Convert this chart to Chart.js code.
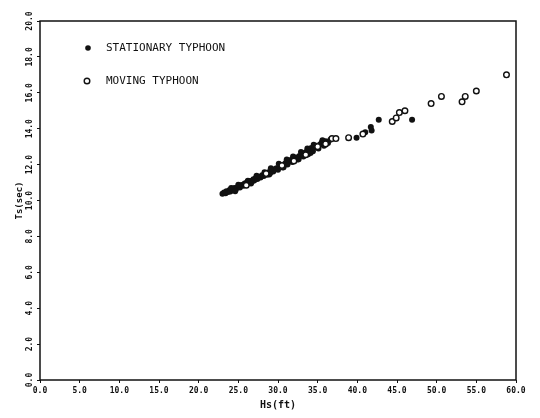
<!DOCTYPE html>
<html>
<head>
<meta charset="utf-8">
<script src="https://cdn.jsdelivr.net/npm/chart.js@4/dist/chart.umd.min.js"></script>
<style>
  html, body { margin: 0; padding: 0; background: #fff; }
  #wrap { width: 540px; height: 418px; }
</style>
</head>
<body>
<div id="wrap"><canvas id="chart"></canvas></div>
<script>
// tick values
const xTicks = [0, 5, 10, 15, 20, 25, 30, 35, 40, 45, 50, 55, 60];
const yTicks = [0, 2, 4, 6, 8, 10, 12, 14, 16, 18, 20];

// stationary typhoon (filled dots)
const stationaryX = [23.0, 23.2, 23.4, 23.5, 23.7, 23.9, 24.0, 24.2, 24.4, 24.5, 24.7, 24.9,
  25.1, 25.2, 25.4, 25.6, 25.8, 26.0, 26.1, 26.3, 26.5, 26.7, 26.9, 27.0, 27.2, 27.4, 27.6,
  27.8, 28.0, 28.2, 28.4, 28.6, 28.8, 29.0, 29.2, 29.4, 29.6, 29.8, 30.0, 30.2, 30.4, 30.6,
  30.8, 31.0, 31.2, 31.4, 31.6, 31.8, 32.0, 32.3, 32.5, 32.7, 33.0, 33.2, 33.4, 33.6, 33.8,
  34.0, 34.2, 34.4, 34.6, 34.9, 35.1, 35.3, 35.5, 35.8, 36.0, 36.3, 36.6,
  24.1, 25.0, 26.2, 27.3, 28.3, 29.1, 30.1, 31.1, 31.9, 32.9, 33.7, 34.5, 35.6,
  24.6, 26.6, 28.9, 30.7, 32.6, 34.1,
  39.9, 41.0, 41.7, 41.8, 42.7, 46.9];
const stationaryY = [10.38, 10.45, 10.40, 10.52, 10.48, 10.58, 10.50, 10.62, 10.58, 10.70, 10.63, 10.74,
  10.80, 10.72, 10.86, 10.82, 10.95, 10.90, 11.02, 10.96, 11.08, 11.05, 11.18, 11.12, 11.25, 11.20, 11.32,
  11.28, 11.40, 11.36, 11.48, 11.44, 11.58, 11.52, 11.66, 11.62, 11.74, 11.80, 11.72, 11.86, 11.92, 11.84,
  12.02, 12.10, 12.00, 12.18, 12.26, 12.14, 12.30, 12.40, 12.28, 12.48, 12.55, 12.45, 12.66, 12.72, 12.58,
  12.80, 12.92, 12.74, 12.95, 13.05, 12.90, 13.12, 13.22, 13.05, 13.30, 13.20, 13.38,
  10.70, 10.88, 11.10, 11.38, 11.58, 11.80, 12.05, 12.28, 12.45, 12.70, 12.90, 13.10, 13.35,
  10.52, 10.95, 11.45, 11.85, 12.30, 12.65,
  13.5, 13.8, 14.1, 13.9, 14.5, 14.5];

// moving typhoon (open circles)
const movingX = [26.0, 28.5, 30.5, 32.0, 33.5, 35.0, 36.0, 36.8, 37.3,
  38.9, 40.7, 44.4, 44.9, 45.3, 46.0, 49.3, 50.6, 53.2, 53.6, 55.0, 58.8];
const movingY = [10.85, 11.50, 11.95, 12.20, 12.55, 13.00, 13.15, 13.45, 13.45,
  13.5, 13.7, 14.4, 14.6, 14.9, 15.0, 15.4, 15.8, 15.5, 15.8, 16.1, 17.0];

const ink = '#111';
const tickFont = { family: 'DejaVu Sans Mono', size: 8, weight: 'bold' };

function toPoints(xs, ys) {
  return xs.map((x, i) => ({ x: x, y: ys[i] }));
}

const frame = {
  id: 'frame',
  afterDraw(chart) {
    const a = chart.chartArea;
    const ctx = chart.ctx;
    ctx.save();
    ctx.strokeStyle = ink;
    ctx.lineWidth = 1.5;
    ctx.strokeRect(a.left, a.top, a.right - a.left, a.bottom - a.top);

    // legend inside the plot
    ctx.fillStyle = ink;
    ctx.beginPath();
    ctx.arc(88, 48, 2.8, 0, Math.PI * 2);
    ctx.fill();
    ctx.lineWidth = 1.4;
    ctx.beginPath();
    ctx.arc(87, 81, 2.8, 0, Math.PI * 2);
    ctx.stroke();
    ctx.font = '11px "DejaVu Sans Mono"';
    ctx.textBaseline = 'middle';
    ctx.fillText('STATIONARY TYPHOON', 106, 48);
    ctx.fillText('MOVING TYPHOON', 106, 81);
    ctx.restore();
  }
};

new Chart(document.getElementById('chart'), {
  type: 'scatter',
  data: {
    datasets: [
      {
        label: 'MOVING TYPHOON',
        data: toPoints(movingX, movingY),
        pointRadius: 2.8,
        pointBackgroundColor: '#fff',
        pointBorderColor: ink,
        pointBorderWidth: 1.4
      },
      {
        label: 'STATIONARY TYPHOON',
        data: toPoints(stationaryX, stationaryY),
        pointRadius: 3,
        pointBackgroundColor: ink,
        pointBorderWidth: 0
      }
    ]
  },
  options: {
    responsive: true,
    maintainAspectRatio: false,
    animation: false,
    layout: { padding: { top: 21, right: 24, left: 0, bottom: 0 } },
    plugins: { legend: { display: false }, tooltip: { enabled: false } },
    scales: {
      x: {
        min: 0, max: 60,
        afterBuildTicks: s => { s.ticks = xTicks.map(v => ({ value: v })); },
        afterFit: s => { s.height = 38; },
        border: { display: false },
        grid: { drawOnChartArea: false, tickLength: 3, color: ink },
        ticks: { color: ink, font: tickFont, padding: 3, maxRotation: 0,
          callback: v => v.toFixed(1) },
        title: { display: true, text: 'Hs(ft)', color: ink,
          font: { family: 'DejaVu Sans Mono', size: 10, weight: 'bold' },
          padding: { top: 0, bottom: 7 } }
      },
      y: {
        min: 0, max: 20,
        afterBuildTicks: s => { s.ticks = yTicks.map(v => ({ value: v })); },
        afterFit: s => { s.width = 40; },
        border: { display: false },
        grid: { drawOnChartArea: false, tickLength: 3, color: ink },
        ticks: { color: ink, font: tickFont, padding: -3, minRotation: 90, maxRotation: 90,
          crossAlign: 'center', callback: v => v.toFixed(1) },
        title: { display: true, text: 'Ts(sec)', color: ink,
          font: { family: 'DejaVu Sans Mono', size: 9, weight: 'bold' },
          padding: { top: 14, bottom: 0 } }
      }
    }
  },
  plugins: [frame]
});
</script>
</body>
</html>
